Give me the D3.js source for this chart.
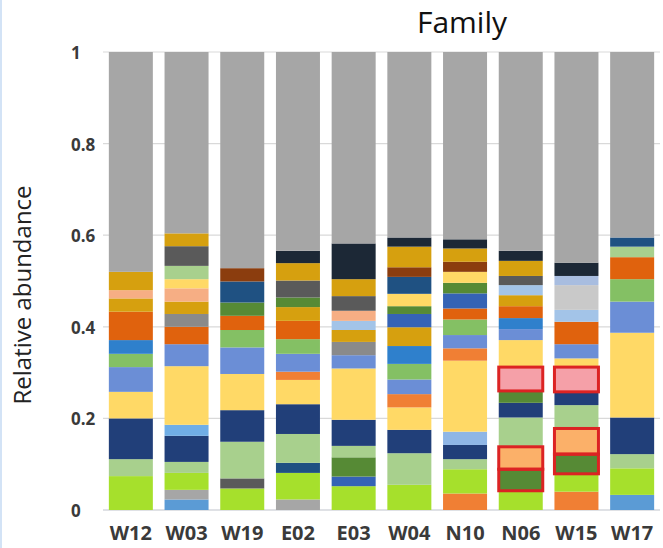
<!DOCTYPE html>
<html>
<head>
<meta charset="utf-8">
<script src="https://cdn.jsdelivr.net/npm/d3@7"></script>
<style>
  html, body { margin: 0; padding: 0; background: #fff; }
  svg { display: block; }
</style>
</head>
<body>
<svg id="chart" width="663" height="548"></svg>
<script>
// Samples along the x axis
const samples = ["W12", "W03", "W19", "E02", "E03", "W04", "N10", "N06", "W15", "W17"];

// Y axis ticks
const yTicks = [0, 0.2, 0.4, 0.6, 0.8, 1];
const yTickLabels = ["0", "0.2", "0.4", "0.6", "0.8", "1"];

// Family colours
const familyColors = {
  other:       "#a6a6a6",
  lime:        "#a6e02c",
  sage:        "#a8d08d",
  navy:        "#213f79",
  paleYellow:  "#ffd966",
  cornflower:  "#6b8ed6",
  green:       "#84c064",
  blue:        "#2f80cc",
  darkOrange:  "#e0620d",
  gold:        "#d6a00f",
  salmon:      "#f6ae84",
  darkGray:    "#5a5a5a",
  midGray:     "#8a8a8a",
  blackNavy:   "#1c2836",
  brown:       "#8b3d0e",
  darkBlue:    "#1f5182",
  olive:       "#568a35",
  paleBlue:    "#a3c4e8",
  skyBlue:     "#70aee6",
  lightBlue:   "#8fb6e6",
  royalBlue:   "#3563b5",
  orange:      "#f07f34",
  steelBlue:   "#5b9bd5",
  pink:        "#f5a0a8",
  apricot:     "#fbb069",
  lightGray:   "#c9c9c9",
  steelPale:   "#a8bde0"
};

// Relative abundance per sample, stacked from the bottom up
const W12 = [["lime",0.074],["sage",0.037],["navy",0.089],["paleYellow",0.058],["cornflower",0.054],
  ["green",0.029],["blue",0.030],["darkOrange",0.062],["gold",0.029],["salmon",0.018],["gold",0.040],["other",0.480]];
const W03 = [["steelBlue",0.023],["other",0.021],["lime",0.037],["sage",0.024],["navy",0.057],["skyBlue",0.024],
  ["paleYellow",0.128],["cornflower",0.048],["darkOrange",0.038],["midGray",0.028],["gold",0.027],["salmon",0.029],
  ["paleYellow",0.020],["sage",0.029],["darkGray",0.043],["gold",0.028],["other",0.396]];
const W19 = [["lime",0.047],["darkGray",0.022],["sage",0.080],["navy",0.069],["paleYellow",0.079],["cornflower",0.058],
  ["green",0.038],["darkOrange",0.031],["olive",0.029],["darkBlue",0.046],["brown",0.029],["other",0.472]];
const E02 = [["other",0.023],["lime",0.058],["darkBlue",0.022],["sage",0.063],["navy",0.065],["paleYellow",0.053],
  ["orange",0.018],["cornflower",0.039],["green",0.032],["darkOrange",0.040],["gold",0.030],["olive",0.021],
  ["darkGray",0.037],["gold",0.038],["blackNavy",0.027],["other",0.434]];
const E03 = [["lime",0.052],["royalBlue",0.021],["olive",0.042],["sage",0.025],["navy",0.057],["paleYellow",0.112],
  ["cornflower",0.029],["midGray",0.029],["gold",0.026],["paleBlue",0.020],["salmon",0.022],["darkGray",0.032],
  ["gold",0.037],["blackNavy",0.078],["other",0.418]];
const W04 = [["lime",0.055],["sage",0.069],["navy",0.051],["paleYellow",0.049],["orange",0.029],["cornflower",0.032],
  ["green",0.034],["blue",0.039],["gold",0.041],["royalBlue",0.029],["olive",0.017],["paleYellow",0.027],
  ["darkBlue",0.037],["brown",0.021],["gold",0.045],["blackNavy",0.020],["other",0.405]];
const N10 = [["orange",0.036],["lime",0.053],["sage",0.022],["navy",0.031],["lightBlue",0.029],["paleYellow",0.155],
  ["orange",0.027],["cornflower",0.029],["green",0.034],["darkOrange",0.024],["royalBlue",0.033],["olive",0.023],
  ["paleYellow",0.024],["brown",0.022],["gold",0.029],["blackNavy",0.020],["other",0.409]];
const N06 = [["lime",0.042],["olive",0.047],["apricot",0.049],["sage",0.064],["navy",0.032],["olive",0.026],
  ["pink",0.052],["paleYellow",0.059],["cornflower",0.024],["blue",0.024],["darkOrange",0.026],["gold",0.024],
  ["paleBlue",0.022],["darkGray",0.020],["gold",0.033],["blackNavy",0.022],["other",0.434]];
const W15 = [["orange",0.040],["lime",0.039],["olive",0.043],["apricot",0.056],["sage",0.051],["navy",0.029],
  ["pink",0.054],["paleYellow",0.019],["cornflower",0.031],["darkOrange",0.049],["paleBlue",0.026],
  ["lightGray",0.054],["steelPale",0.020],["blackNavy",0.029],["other",0.460]];
const W17 = [["steelBlue",0.033],["lime",0.058],["sage",0.031],["navy",0.080],["paleYellow",0.185],
  ["cornflower",0.068],["green",0.049],["darkOrange",0.048],["sage",0.023],["darkBlue",0.020],["other",0.405]];

// Segments outlined in red: [sample, segment index from the bottom]
const outlined = [["N06",1],["N06",2],["N06",6],["W15",2],["W15",3],["W15",6]];

const sampleData = { W12, W03, W19, E02, E03, W04, N10, N06, W15, W17 };

const svg = d3.select("#chart");

// thin pale blue edge on the left side of the canvas
svg.append("rect").attr("x", 0).attr("y", 0).attr("width", 2).attr("height", 548).attr("fill", "#d3e3f6");

const x = d3.scaleBand().domain(samples).range([103, 660]).paddingInner(0.21).paddingOuter(0.105);
const y = d3.scaleLinear().domain([0, 1]).range([510, 52]);

// horizontal gridlines
svg.append("g").selectAll("line").data(yTicks).join("line")
  .attr("x1", 103).attr("x2", 660)
  .attr("y1", d => y(d)).attr("y2", d => y(d))
  .attr("stroke", d => d === 0 ? "#bfc3cc" : "#d9d9d9")
  .attr("stroke-width", 1.2);

// stacked bars
const bars = svg.append("g");
samples.forEach(s => {
  const segs = sampleData[s];
  const tops = d3.cumsum(segs, d => d[1]);
  const rows = segs.map((d, i) => ({ fam: d[0], y0: tops[i] - d[1], y1: tops[i] }));
  bars.append("g").selectAll("rect").data(rows).join("rect")
    .attr("x", x(s)).attr("width", x.bandwidth())
    .attr("y", d => y(d.y1)).attr("height", d => y(d.y0) - y(d.y1))
    .attr("fill", d => familyColors[d.fam]);
});

// red outlines around selected segments
svg.append("g").selectAll("rect").data(outlined).join("rect")
  .each(function([s, idx]) {
    const segs = sampleData[s];
    const tops = d3.cumsum(segs, d => d[1]);
    const y1 = tops[idx], y0 = tops[idx] - segs[idx][1];
    d3.select(this)
      .attr("x", x(s)).attr("width", x.bandwidth())
      .attr("y", y(y1)).attr("height", y(y0) - y(y1));
  })
  .attr("fill", "none").attr("stroke", "#dc2323").attr("stroke-width", 3);

// y axis labels
const yAxis = svg.append("g").attr("transform", "translate(103,0)")
  .call(d3.axisLeft(y).tickValues(yTicks).tickFormat((d, i) => yTickLabels[i]).tickSize(0));
yAxis.select(".domain").remove();
yAxis.selectAll("text")
  .attr("x", -32).attr("dy", "0.38em").attr("text-anchor", "start")
  .attr("font-family", "'Open Sans', sans-serif").attr("font-size", 17).attr("font-weight", "bold")
  .attr("fill", "#3a3a3a");

// x axis labels
const xAxis = svg.append("g").attr("transform", "translate(0,510)")
  .call(d3.axisBottom(x).tickSize(0).tickPadding(16));
xAxis.select(".domain").remove();
xAxis.selectAll("text")
  .attr("font-family", "'Open Sans', sans-serif").attr("font-size", 20).attr("font-weight", "bold")
  .attr("fill", "#3a3a3a");

// axis title
svg.append("text")
  .attr("transform", "translate(31,295) rotate(-90)")
  .attr("text-anchor", "middle")
  .attr("font-family", "'Open Sans', sans-serif").attr("font-size", 24)
  .attr("fill", "#222")
  .text("Relative abundance");

// chart title
svg.append("text")
  .attr("x", 462).attr("y", 33)
  .attr("text-anchor", "middle")
  .attr("font-family", "'Open Sans', sans-serif").attr("font-size", 30)
  .attr("fill", "#111")
  .text("Family");
</script>
</body>
</html>
